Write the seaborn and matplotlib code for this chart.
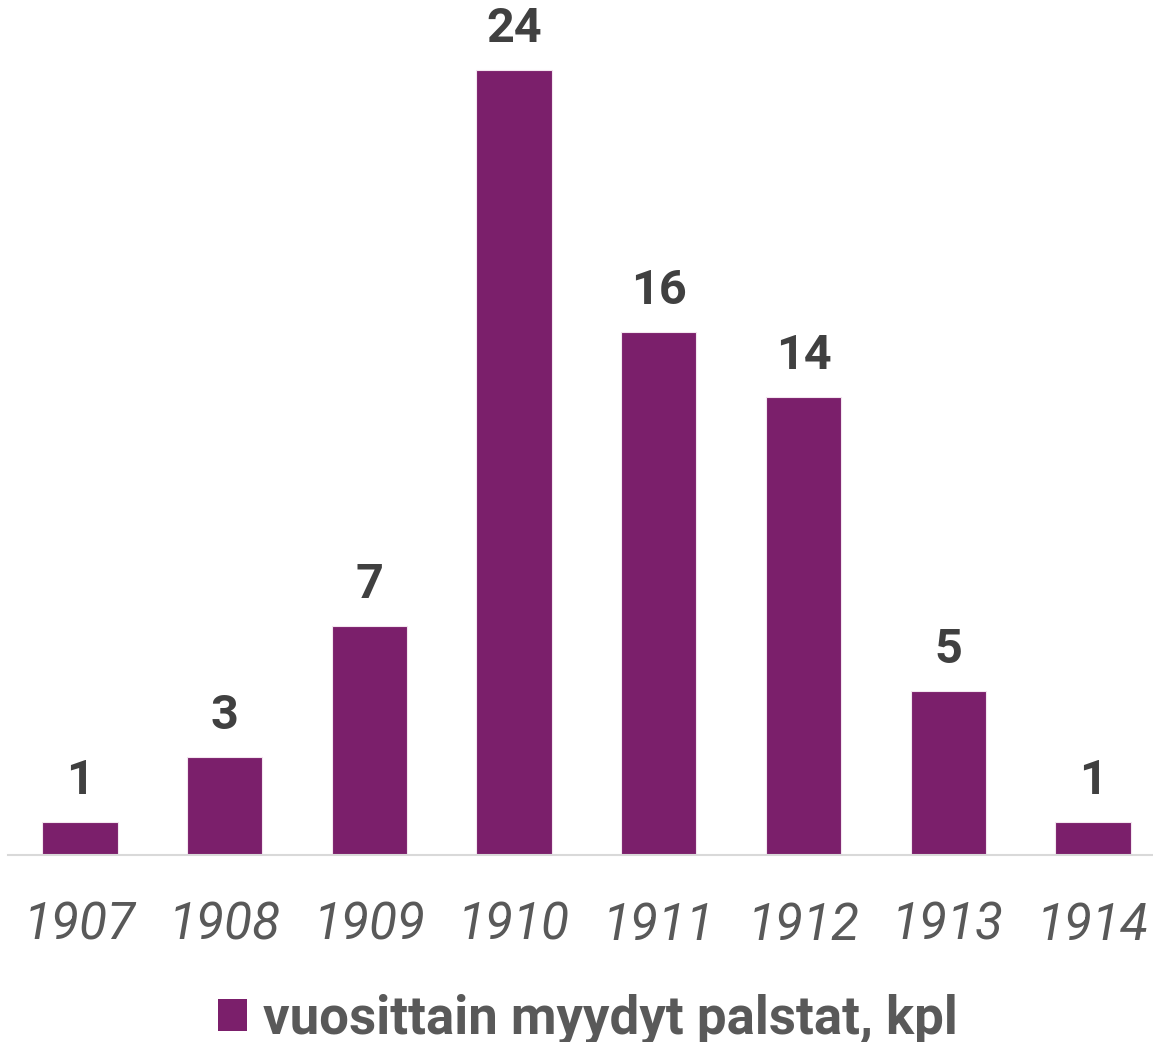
import matplotlib
matplotlib.use('Agg')
import matplotlib.pyplot as plt
import seaborn as sns
import pandas as pd
from matplotlib.patches import Patch

years = ["1907", "1908", "1909", "1910", "1911", "1912", "1913", "1914"]
sold = [1, 3, 7, 24, 16, 14, 5, 1]
series_name = "vuosittain myydyt palstat, kpl"

bar_color = "#7B1F6B"

sns.set_style("white")
plt.rcParams['font.family'] = ['Roboto', 'DejaVu Sans']

df = pd.DataFrame({"year": years, "sold": sold})

fig = plt.figure(figsize=(11.53, 10.42), dpi=100)
ax = fig.add_axes([0.0069, 0.1795, 0.9931, 0.811])

sns.barplot(data=df, x="year", y="sold", color=bar_color, saturation=1,
            width=0.52, edgecolor="#F3E6EF", linewidth=0.8, ax=ax)

ax.set_ylim(0, 845 / 32.71)
ax.set_xlim(-0.4976, 7.415)

# value labels
for i, v in enumerate(sold):
    ax.annotate(str(v), (i, v), xytext=(0, 13), textcoords="offset points",
                ha="center", va="bottom", fontsize=35, fontweight="bold",
                color="#404040")

ax.set_xlabel("")
ax.set_ylabel("")
ax.set_yticks([])
ax.tick_params(axis="x", length=0, pad=33)
for lbl in ax.get_xticklabels():
    lbl.set_fontsize(37)
    lbl.set_fontstyle("italic")
    lbl.set_color("#595959")

for s in ["top", "left", "right"]:
    ax.spines[s].set_visible(False)
ax.spines["bottom"].set_color("#D9D9D9")
ax.spines["bottom"].set_linewidth(1.5)

handle = Patch(facecolor=bar_color, edgecolor="none")
leg = fig.legend([handle], [series_name], loc="center", bbox_to_anchor=(0.51, 0.022),
                 frameon=False, handlelength=0.55, handleheight=0.55,
                 handletextpad=0.3, prop={"size": 38, "weight": "bold"})
for t in leg.get_texts():
    t.set_color("#595959")

fig.savefig("out.png", dpi=100)
plt.close()
